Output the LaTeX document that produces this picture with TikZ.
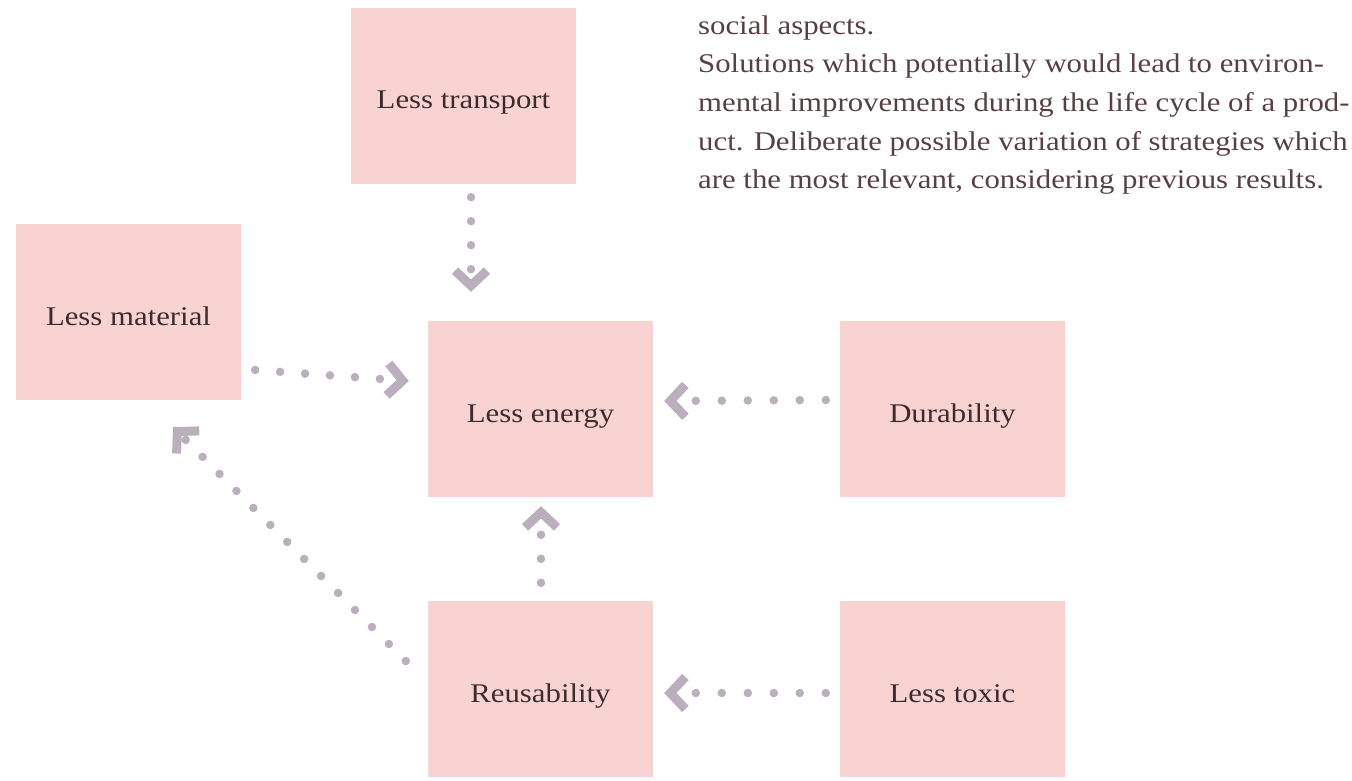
\documentclass[tikz,border=0pt]{standalone}
\usepackage{fontspec}
\setmainfont[FakeStretch=1.14]{Liberation Serif}
\usetikzlibrary{arrows.meta,calc}
\definecolor{boxpink}{HTML}{F9D3D2}
\definecolor{dotgray}{HTML}{BBAFBD}
\definecolor{inkbrown}{HTML}{3B2C2F}
\definecolor{bodybrown}{HTML}{574045}
\tikzset{
  stratbox/.style={fill=boxpink, draw=none, minimum width=225pt, minimum height=176pt,
    inner sep=0pt, text=inkbrown, text height=32pt, text depth=6pt,
    font=\fontsize{27}{32}\selectfont},
  dotlink/.style={draw=dotgray, line width=8.5pt, line cap=round,
    dash pattern=on 0pt off 25pt,
    -{Straight Barb[length=15pt, width=32pt, line width=9pt]}},
  bodyline/.style={anchor=base west, inner sep=0pt, text=bodybrown,
    font=\fontsize{27}{39}\selectfont}
}
\begin{document}
\begin{tikzpicture}[x=1pt,y=-1pt]
\useasboundingbox (0,0) rectangle (1352,781);
\fill[white] (0,0) rectangle (1352,781);

% strategy boxes
\node[stratbox] (trans)  at (463.5,96)  {Less transport};
\node[stratbox] (mat)    at (128.5,312) {Less material};
\node[stratbox] (energy) at (540.5,409) {Less energy};
\node[stratbox] (dur)    at (952.5,409) {Durability};
\node[stratbox] (reuse)  at (540.5,689) {Reusability};
\node[stratbox] (toxic)  at (952.5,689) {Less toxic};

% explanatory text
\node[bodyline] (t1) at (698,35)  {social aspects.};
\node[bodyline] (t2) at (698,73)  {Solutions which potentially would lead to environ-};
\node[bodyline] (t3) at (698,112) {mental improvements during the life cycle of a prod-};
\node[bodyline] (t4) at (698,150) {uct. Deliberate possible variation of strategies which};
\node[bodyline] (t5) at (698,189) {are the most relevant, considering previous results.};

% dotted influence arrows
\draw[dotlink, dash pattern=on 0pt off 24pt]
  ($(trans.south)+(7.5,13)$) -- ($(energy.north)+(-69.5,-29)$);
\draw[dotlink]
  ($(mat.east)+(14,58)$) -- ($(energy.west)+(-19,-28)$);
\draw[dotlink, dash pattern=on 0pt off 26pt]
  ($(dur.west)+(-14,-9)$) -- ($(energy.east)+(11,-8)$);
\draw[dotlink, dash pattern=on 0pt off 24pt]
  ($(reuse.north)+(0.5,-18)$) -- ($(energy.south)+(0.5,9)$);
\draw[dotlink, dash pattern=on 0pt off 24pt]
  ($(reuse.west)+(-22,-28)$) -- ($(mat.south)+(44.5,27)$);
\draw[dotlink, dash pattern=on 0pt off 26pt]
  ($(toxic.west)+(-14,4)$) -- ($(reuse.east)+(11,4)$);
\end{tikzpicture}
\end{document}
